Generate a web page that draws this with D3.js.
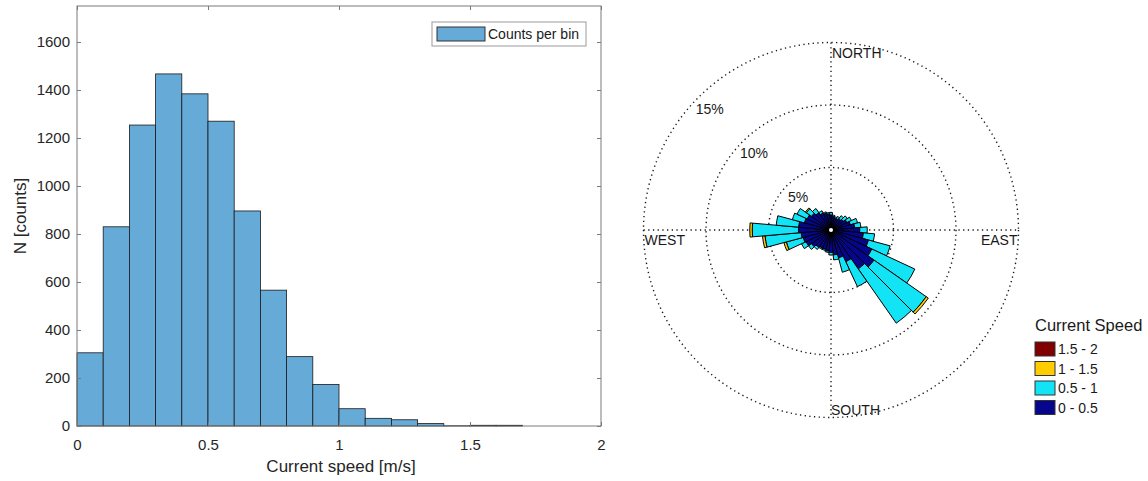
<!DOCTYPE html>
<html>
<head>
<meta charset="utf-8">
<script src="https://cdn.jsdelivr.net/npm/d3@7/dist/d3.min.js"></script>
<style>
body { margin: 0; background: #ffffff; }
svg { display: block; font-family: "Liberation Sans", Arial, Helvetica, sans-serif; }
</style>
</head>
<body>
<div id="chart"></div>
<script>
//-------------------------------------------------------
// data: histogram of current speed
//-------------------------------------------------------
const binStarts = [0, 0.1, 0.2, 0.3, 0.4, 0.5, 0.6, 0.7, 0.8, 0.9,
                   1.0, 1.1, 1.2, 1.3, 1.4, 1.5, 1.6, 1.7, 1.8, 1.9];
const binCounts = [305, 830, 1254, 1467, 1384, 1270, 896, 566, 289, 173,
                   72, 32, 26, 10, 1, 3, 3, 0, 0, 0];
const binWidth = 0.1;
const xTicks = [0, 0.5, 1, 1.5, 2];
const yTicks = [0, 200, 400, 600, 800, 1000, 1200, 1400, 1600];

//-------------------------------------------------------
// data: current rose (percent of records per 10 deg sector)
//-------------------------------------------------------
const directions = [0, 10, 20, 30, 40, 50, 60, 70, 80, 90, 100, 110,
                    120, 130, 140, 150, 160, 170, 180, 190, 200, 210, 220, 230,
                    240, 250, 260, 270, 280, 290, 300, 310, 320, 330, 340, 350];
const pct0to05 = [1.2, 1.1, 1.0, 1.0, 1.1, 1.2, 1.4, 1.6, 1.9, 2.3, 2.6, 3.1,
                  3.6, 4.2, 3.8, 2.8, 2.3, 2.0, 1.8, 1.7, 1.6, 1.6, 1.7, 1.9,
                  2.2, 2.3, 2.4, 2.6, 2.6, 2.2, 2.1, 1.9, 1.7, 1.5, 1.4, 1.3];
const pct05to1 = [0.2, 0.1, 0.1, 0.2, 0.3, 0.4, 0.4, 0.6, 0.5, 0.6, 0.9, 1.8,
                  3.8, 5.1, 5.3, 2.2, 1.2, 0.4, 0.2, 0.1, 0.1, 0.1, 0.2, 0.3,
                  0.4, 1.4, 2.9, 3.7, 1.8, 1.0, 0.9, 0.5, 0.4, 0.2, 0.1, 0.1];
const pct1to15 = [0, 0, 0, 0, 0, 0, 0, 0, 0, 0, 0, 0,
                  0, 0.2, 0, 0, 0, 0, 0, 0, 0, 0, 0, 0,
                  0, 0.2, 0.2, 0.2, 0, 0, 0, 0.1, 0, 0, 0, 0];
const pct15to2 = [0, 0, 0, 0, 0, 0, 0, 0, 0, 0, 0, 0,
                  0, 0, 0, 0, 0, 0, 0, 0, 0, 0, 0, 0,
                  0, 0, 0, 0, 0, 0, 0, 0, 0, 0, 0, 0];
const speedClasses = ["0 - 0.5", "0.5 - 1", "1 - 1.5", "1.5 - 2"];
const ringValues = [5, 10, 15];
const compassLabels = ["NORTH", "EAST", "SOUTH", "WEST"];

//-------------------------------------------------------
// properties
//-------------------------------------------------------
let properties = {
    width: 1148,
    height: 481,
    hist: { left: 77, right: 601, top: 6, bottom: 426 },
    rose: { cx: 831, cy: 230, r: 187.5, maxPct: 15, sector: 10 },
    color: {
        bar: "#66aad7",
        axis: "#7a7a7a",
        text: "#262626",
        grid: "#1a1a1a",
        classes: ["#06068c", "#12e3f5", "#ffcc00", "#800000"]
    }
};

const svg = d3.select("#chart")
    .append("svg")
    .attr("width", properties.width)
    .attr("height", properties.height);

//-------------------------------------------------------
// histogram
//-------------------------------------------------------
const h = properties.hist;
const x = d3.scaleLinear().domain([0, 2]).range([h.left, h.right]);
const y = d3.scaleLinear().domain([0, 1750]).range([h.bottom, h.top]);

const histGroup = svg.append("g").attr("id", "histogram");

histGroup.selectAll("rect.bar")
    .data(binStarts.map((b, i) => ({ start: b, count: binCounts[i] })))
    .enter()
    .append("rect")
    .attr("class", "bar")
    .attr("x", d => x(d.start))
    .attr("width", d => x(d.start + binWidth) - x(d.start))
    .attr("y", d => y(d.count))
    .attr("height", d => y(0) - y(d.count))
    .attr("fill", properties.color.bar)
    .attr("stroke", "#1a1a1a")
    .attr("stroke-width", 0.8);

// axes, ticks inside and mirrored like matlab
const fmt = d => String(d);
const xAxis = histGroup.append("g")
    .attr("transform", `translate(0,${h.bottom})`)
    .call(d3.axisBottom(x).tickValues(xTicks).tickFormat(fmt)
        .tickSizeInner(-4).tickSizeOuter(0).tickPadding(13));
const xAxisTop = histGroup.append("g")
    .attr("transform", `translate(0,${h.top})`)
    .call(d3.axisTop(x).tickValues(xTicks).tickFormat("")
        .tickSizeInner(-4).tickSizeOuter(0));
const yAxis = histGroup.append("g")
    .attr("transform", `translate(${h.left},0)`)
    .call(d3.axisLeft(y).tickValues(yTicks).tickFormat(fmt)
        .tickSizeInner(-4).tickSizeOuter(0).tickPadding(7));
const yAxisRight = histGroup.append("g")
    .attr("transform", `translate(${h.right},0)`)
    .call(d3.axisRight(y).tickValues(yTicks).tickFormat("")
        .tickSizeInner(-4).tickSizeOuter(0));

[xAxis, xAxisTop, yAxis, yAxisRight].forEach(a => {
    a.select(".domain").remove();
    a.selectAll(".tick line").attr("stroke", properties.color.axis);
    a.selectAll("text")
        .attr("fill", properties.color.text)
        .style("font-size", "15px")
        .style("font-family", "'Liberation Sans', Arial, sans-serif");
});

histGroup.append("rect")
    .attr("x", h.left)
    .attr("y", h.top)
    .attr("width", h.right - h.left)
    .attr("height", h.bottom - h.top)
    .attr("fill", "none")
    .attr("stroke", properties.color.axis)
    .attr("stroke-width", 1);

histGroup.append("text")
    .attr("x", (h.left + h.right) / 2 + 2)
    .attr("y", 472)
    .attr("text-anchor", "middle")
    .attr("fill", properties.color.text)
    .style("font-size", "17px")
    .text("Current speed [m/s]");

histGroup.append("text")
    .attr("transform", `translate(26,${(h.top + h.bottom) / 2}) rotate(-90)`)
    .attr("text-anchor", "middle")
    .attr("fill", properties.color.text)
    .style("font-size", "17px")
    .text("N [counts]");

// legend
const histLegend = histGroup.append("g").attr("id", "hist-legend");
histLegend.append("rect")
    .attr("x", 432).attr("y", 22)
    .attr("width", 154).attr("height", 24)
    .attr("fill", "#ffffff")
    .attr("stroke", "#9a9a9a");
histLegend.append("rect")
    .attr("x", 437).attr("y", 27)
    .attr("width", 48).attr("height", 14)
    .attr("fill", properties.color.bar)
    .attr("stroke", "#333333");
histLegend.append("text")
    .attr("x", 488).attr("y", 39)
    .attr("fill", "#1a1a1a")
    .style("font-size", "14px")
    .text("Counts per bin");

//-------------------------------------------------------
// current rose
//-------------------------------------------------------
const rp = properties.rose;
const r = d3.scaleLinear().domain([0, rp.maxPct]).range([0, rp.r]);
const rose = svg.append("g")
    .attr("id", "rose")
    .attr("transform", `translate(${rp.cx},${rp.cy})`);

// dotted rings and cross
rose.selectAll("circle.ring")
    .data(ringValues)
    .enter()
    .append("circle")
    .attr("class", "ring")
    .attr("r", d => r(d))
    .attr("fill", "none")
    .attr("stroke", properties.color.grid)
    .attr("stroke-width", 1.4)
    .attr("stroke-dasharray", "1.3,3.4");

rose.append("line")
    .attr("x1", -rp.r).attr("x2", rp.r).attr("y1", 0).attr("y2", 0)
    .attr("stroke", properties.color.grid)
    .attr("stroke-width", 1.4)
    .attr("stroke-dasharray", "1.3,3.4");
rose.append("line")
    .attr("y1", -rp.r).attr("y2", rp.r).attr("x1", 0).attr("x2", 0)
    .attr("stroke", properties.color.grid)
    .attr("stroke-width", 1.4)
    .attr("stroke-dasharray", "1.3,3.4");

// stacked petals
const classSeries = [pct0to05, pct05to1, pct1to15, pct15to2];
const petals = [];
directions.forEach((dir, i) => {
    let base = 0;
    classSeries.forEach((series, k) => {
        const v = series[i];
        if (v > 0) {
            petals.push({ dir: dir, inner: base, outer: base + v, cls: k });
        }
        base += v;
    });
});

const arc = d3.arc()
    .innerRadius(d => r(d.inner))
    .outerRadius(d => r(d.outer))
    .startAngle(d => (d.dir - rp.sector / 2) * Math.PI / 180)
    .endAngle(d => (d.dir + rp.sector / 2) * Math.PI / 180);

rose.append("g")
    .attr("id", "petals")
    .selectAll("path")
    .data(petals)
    .enter()
    .append("path")
    .attr("d", arc)
    .attr("fill", d => properties.color.classes[d.cls])
    .attr("stroke", "#000000")
    .attr("stroke-width", 1)
    .attr("stroke-linejoin", "round");

rose.append("circle")
    .attr("r", 2)
    .attr("fill", "#ffffff");

// ring labels along the upper-left diagonal
rose.selectAll("text.ring-label")
    .data(ringValues)
    .enter()
    .append("text")
    .attr("class", "ring-label")
    .attr("x", d => -(r(d) - 16) * Math.SQRT1_2)
    .attr("y", d => -(r(d) - 16) * Math.SQRT1_2)
    .attr("dy", "0.35em")
    .attr("text-anchor", "middle")
    .attr("fill", "#1a1a1a")
    .style("font-size", "14px")
    .text(d => `${d}%`);

// compass labels
const compassPos = {
    NORTH: { x: 1, y: -rp.r + 15, anchor: "start" },
    EAST: { x: rp.r - 1, y: 15, anchor: "end" },
    SOUTH: { x: 0, y: rp.r - 3, anchor: "start" },
    WEST: { x: -rp.r + 1, y: 15, anchor: "start" }
};
rose.selectAll("text.compass")
    .data(compassLabels)
    .enter()
    .append("text")
    .attr("class", "compass")
    .attr("x", d => compassPos[d].x)
    .attr("y", d => compassPos[d].y)
    .attr("text-anchor", d => compassPos[d].anchor)
    .attr("fill", "#1a1a1a")
    .style("font-size", "14px")
    .text(d => d);

// rose legend (highest class on top)
const roseLegend = svg.append("g").attr("id", "rose-legend");
roseLegend.append("text")
    .attr("x", 1035).attr("y", 331)
    .attr("fill", "#1a1a1a")
    .style("font-size", "16.5px")
    .text("Current Speed");

const legendItems = speedClasses.map((c, k) => ({ label: c, cls: k })).reverse();
const legendRow = roseLegend.selectAll("g.item")
    .data(legendItems)
    .enter()
    .append("g")
    .attr("class", "item")
    .attr("transform", (d, i) => `translate(1035,${342 + i * 19.5})`);
legendRow.append("rect")
    .attr("width", 20).attr("height", 14)
    .attr("fill", d => properties.color.classes[d.cls])
    .attr("stroke", "#333333");
legendRow.append("text")
    .attr("x", 23).attr("y", 12)
    .attr("fill", "#1a1a1a")
    .style("font-size", "14px")
    .text(d => d.label);
</script>
</body>
</html>
